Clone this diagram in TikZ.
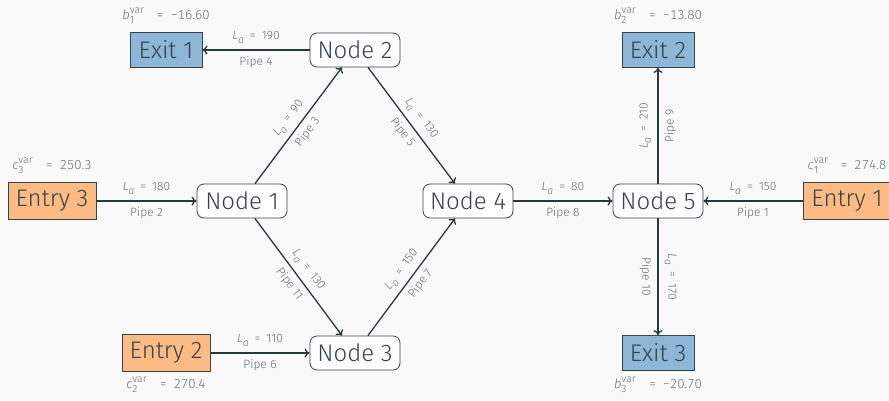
\documentclass[tikz,border=0pt]{standalone}
\usepackage{fontspec}
\setmainfont{Fira Sans Light}[ItalicFont={Fira Sans Light Italic}]
\usetikzlibrary{arrows.meta}

\definecolor{bgc}{RGB}{249,249,249}
\definecolor{ink}{RGB}{52,68,72}
\definecolor{wire}{RGB}{40,56,60}
\definecolor{soft}{RGB}{100,110,114}
\definecolor{entryfill}{RGB}{252,187,132}
\definecolor{exitfill}{RGB}{141,182,215}

% small script size used for indices
\newcommand\scr{\fontsize{10.5}{10.5}\selectfont}
% pipe length label
\newcommand\Lab[1]{\textit{L}\raisebox{-0.3em}{\scr\textit{a}}\hspace{0.5em}=\hspace{0.5em}#1}
% boundary value label with stacked super- and subscript
\newcommand\Bval[3]{\textit{#1}{\scr\rlap{\raisebox{0.55em}{var}}\raisebox{-0.4em}{#2}\hphantom{var}}\hspace{0.65em}=\hspace{0.55em}\addfontfeatures{Numbers=Monospaced}#3}

\begin{document}
\begin{tikzpicture}[x=1pt,y=-1pt,
  hub/.style={draw=ink, line width=0.8pt, fill=white, rounded corners=7pt,
    minimum width=90pt, minimum height=34pt, inner sep=0pt,
    text=ink, font=\fontsize{24}{26}\selectfont},
  entrybox/.style={draw=ink, line width=0.8pt, fill=entryfill,
    minimum width=88pt, minimum height=37pt, inner sep=0pt,
    text=ink, font=\fontsize{24}{26}\selectfont},
  exitbox/.style={draw=ink, line width=0.8pt, fill=exitfill,
    minimum width=72pt, minimum height=35pt, inner sep=0pt,
    text=ink, font=\fontsize{24}{26}\selectfont},
  pipe/.style={draw=wire, line width=1.3pt, -{To[length=5pt,width=9pt]}},
  elab/.style={text=soft, font=\fontsize{12}{14}\selectfont, inner sep=1pt},
  vlab/.style={text=soft, font=\fontsize{13}{15}\selectfont, inner sep=0pt},
]
\fill[bgc] (0,0) rectangle (889,400);
\useasboundingbox (0,0) rectangle (889,400);

% junctions
\node[hub] (n1) at (242,201) {Node 1};
\node[hub] (n2) at (355,50)  {Node 2};
\node[hub] (n3) at (355,353) {Node 3};
\node[hub] (n4) at (468,201) {Node 4};
\node[hub] (n5) at (658,201) {Node 5};

% sources and sinks
\node[entrybox] (e1) at (847,201) {Entry 1};
\node[entrybox] (e2) at (166,353) {Entry 2};
\node[entrybox] (e3) at (52,201)  {Entry 3};
\node[exitbox] (x1) at (166,50)  {Exit 1};
\node[exitbox] (x2) at (658,50)  {Exit 2};
\node[exitbox] (x3) at (658,353) {Exit 3};

% boundary values
\node[vlab] (v1) at (166,16)  {\Bval{b}{1}{−16.60}};
\node[vlab] (v2) at (658,16)  {\Bval{b}{2}{−13.80}};
\node[vlab] (v3) at (658,385) {\Bval{b}{3}{−20.70}};
\node[vlab] (w1) at (847,166) {\Bval{c}{1}{274.8}};
\node[vlab] (w2) at (166,385) {\Bval{c}{2}{270.4}};
\node[vlab] (w3) at (52,166)  {\Bval{c}{3}{250.3}};

% pipes
\draw[pipe] (e1) -- node[elab,above=5pt]{\Lab{150}} node[elab,below=5pt]{Pipe 1} (n5);
\draw[pipe] (e3) -- node[elab,above=5pt]{\Lab{180}} node[elab,below=5pt]{Pipe 2} (n1);
\draw[pipe] (n1) -- node[elab,sloped,above=4pt]{\Lab{90}} node[elab,sloped,below=4pt]{Pipe 3} (n2);
\draw[pipe] (n2) -- node[elab,above=5pt]{\Lab{190}} node[elab,below=5pt]{Pipe 4} (x1);
\draw[pipe] (n2) -- node[elab,sloped,above=4pt]{\Lab{130}} node[elab,sloped,below=4pt]{Pipe 5} (n4);
\draw[pipe] (e2) -- node[elab,above=5pt]{\Lab{110}} node[elab,below=5pt]{Pipe 6} (n3);
\draw[pipe] (n3) -- node[elab,sloped,above=4pt]{\Lab{150}} node[elab,sloped,below=4pt]{Pipe 7} (n4);
\draw[pipe] (n4) -- node[elab,above=5pt]{\Lab{80}} node[elab,below=5pt]{Pipe 8} (n5);
\draw[pipe] (n5) -- node[elab,rotate=90,anchor=south,yshift=5pt]{\Lab{210}}
                    node[elab,rotate=90,anchor=north,yshift=-5pt]{Pipe 9} (x2);
\draw[pipe] (n5) -- node[elab,rotate=-90,anchor=south,yshift=5pt]{\Lab{170}}
                    node[elab,rotate=-90,anchor=north,yshift=-5pt]{Pipe 10} (x3);
\draw[pipe] (n1) -- node[elab,sloped,above=4pt]{\Lab{130}} node[elab,sloped,below=4pt]{Pipe 11} (n3);
\end{tikzpicture}
\end{document}
